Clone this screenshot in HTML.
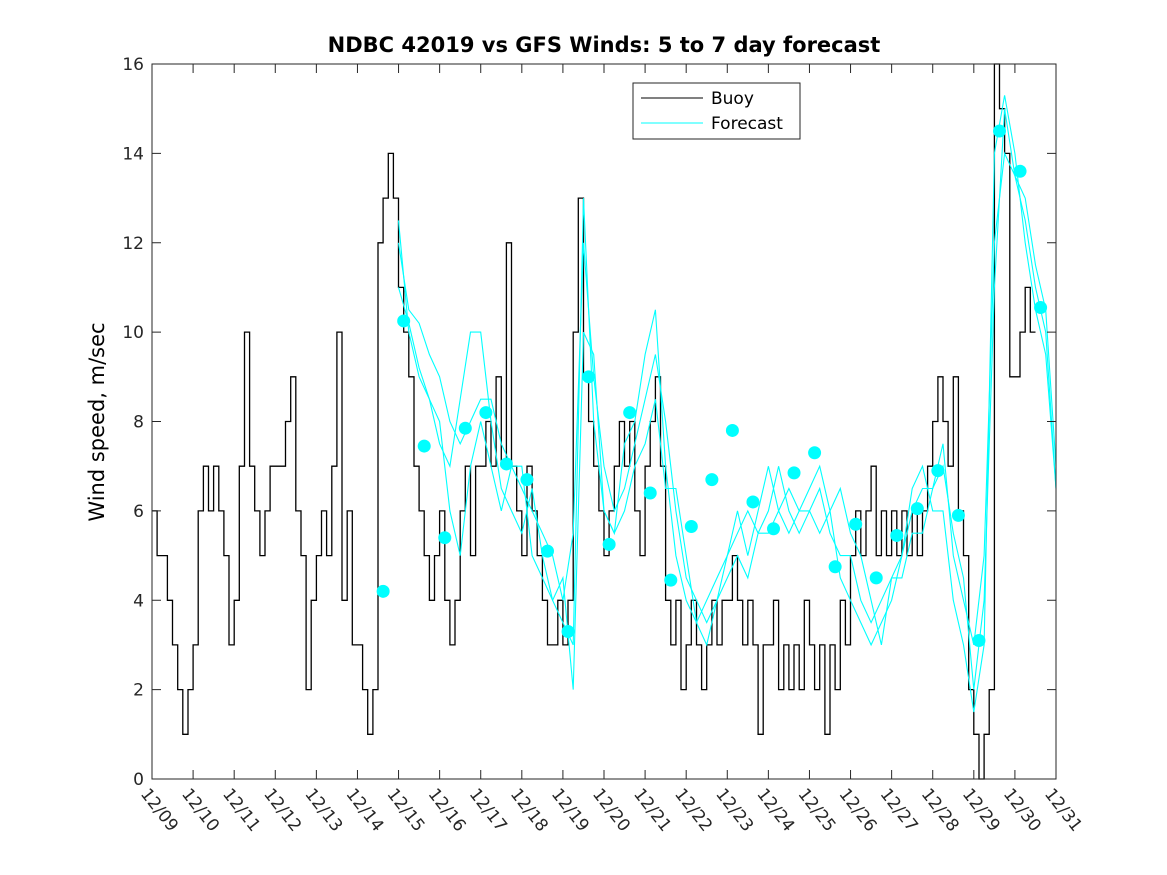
<!DOCTYPE html>
<html><head><meta charset="utf-8"><style>
body{margin:0;background:#fff;}
svg{display:block;font-family:"DejaVu Sans","Liberation Sans",sans-serif;}
</style></head><body>
<svg id="chart" width="1167" height="875" viewBox="0 0 1167 875">
<rect x="0" y="0" width="1167" height="875" fill="#fff"/>
<text x="604" y="52" text-anchor="middle" font-size="21" font-weight="bold">NDBC 42019 vs GFS Winds: 5 to 7 day forecast</text>
<text transform="translate(104,422) rotate(-90)" text-anchor="middle" font-size="21">Wind speed, m/sec</text>
<g id="plot"></g>
</svg>
<script>
const dayLabels=["12/09","12/10","12/11","12/12","12/13","12/14","12/15","12/16","12/17","12/18","12/19","12/20","12/21","12/22","12/23","12/24","12/25","12/26","12/27","12/28","12/29","12/30","12/31"];
const yTicks=[0,2,4,6,8,10,12,14,16];
const buoy=[6,5,5,4,3,2,1,2, 3,6,7,6,7,6,5,3, 4,7,10,7,6,5,6,7, 7,7,8,9,6,5,2,4, 5,6,5,7,10,4,6,3, 3,2,1,2,12,13,14,13, 11,10,9,7,6,5,4,5, 6,4,3,4,6,7,5,7, 7,8,7,9,7,12,7,6, 5,7,6,5,4,3,3,4, 3,4,10,13,9,8,7,6, 5,6,7,8,7,8,6,5, 7,8,9,7,4,3,4,2, 3,4,3,2,3,4,3,4, 4,5,4,3,4,3,1,3, 3,4,2,3,2,3,2,4, 3,2,3,1,3,2,4,3, 5,6,5,6,7,5,6,5, 6,5,6,5,6,5,6,7, 8,9,8,7,9,6,5,2, 1,0,1,2,16,15,14,9, 9,10,11,10];
const buoyStart=0, buoyStep=0.125;
const fcStart=6, fcStep=0.25;
const fcA=[12,10.5,10.2,9.5, 9,8,7.5,8, 8.5,8.5,7.5,7, 6.5,6,5.5,5, 4,5.5,12,9, 7,6,6.5,7.5, 8.5,9.5,8,6, 4.5,4,3.5,4, 5,5.5,6,5.5, 5.5,6,6.5,6, 6,6.5,5.5,5, 5,4,3.5,4, 4.5,5,6,6.5, 6.5,7,5.5,4.5, 2,4,11,15, 13.5,12.5,11,10, 6.5];
const fcB=[11,10.2,9.2,8.5, 7.5,7,8.5,10, 10,8,6.5,6, 5.5,6.5,5,4, 3.5,3,13,8, 6,5.5,7.5,8, 9.5,10.5,7,5, 4,3.5,4,4.5, 5,6,5,6, 7,6,5.5,6, 6.5,7,6,4.5, 4,3.5,3,3.5, 4,5,6.5,7, 6,6,4,3, 1.5,3,14,15.3, 14,12,10.5,9.5, 6.5];
const fcC=[12.5,10,9,8.5, 8,6,5,7, 8,7,6,7, 7,5,4.5,4, 4.5,2,10,9.5, 6,5.5,6,7, 7.5,8.5,6.5,6.5, 5,3.5,3,4, 4.5,5,4.5,5.5, 6,7,6,5.5, 6,5.5,6,6.5, 5.5,5,4,3, 4.5,4.5,5.5,5.5, 6.5,7.5,5,4, 3,5,12,14, 13.5,13,11.5,10.5, 7];
const dotStart=5.625, dotStep=0.5;
const dots=[4.2,10.25,7.45,5.4,7.85,8.2,7.05,6.7,5.1,3.3,9.0,5.25,8.2,6.4,4.45,5.65,6.7,7.8,6.2,5.6,6.85,7.3,4.75,5.7,4.5,5.45,6.05,6.9,5.9,3.1,14.5,13.6,10.55];

const X0=152,X1=1056,Y0=779,Y1=64;
const xs=d=>X0+d*(X1-X0)/22;
const ys=v=>Y0-v*(Y0-Y1)/16;
const NS="http://www.w3.org/2000/svg";
const g=document.getElementById('plot');
function mk(t,a){const e=document.createElementNS(NS,t);for(const k in a)e.setAttribute(k,a[k]);g.appendChild(e);return e;}

const frame=mk('rect',{x:X0,y:Y1,width:X1-X0,height:Y0-Y1,fill:'#fff',stroke:'#262626','stroke-width':1});



// buoy step line
let p='';
buoy.forEach((v,i)=>{const x1=xs(buoyStart+i*buoyStep),x2=xs(buoyStart+(i+1)*buoyStep);
 p+=(i?'L':'M')+x1.toFixed(1)+','+ys(v).toFixed(1)+'L'+x2.toFixed(1)+','+ys(v).toFixed(1);});
const bl=mk('path',{d:p,fill:'none',stroke:'#000','stroke-width':1.3});



[fcA,fcB,fcC].forEach((arr,k)=>{
 const d=arr.map((v,i)=>(i?'L':'M')+xs(fcStart+i*fcStep).toFixed(1)+','+ys(v).toFixed(1)).join('');
 const l=mk('path',{d:d,fill:'none',stroke:'#00ffff','stroke-width':1.1});
 
 
});
dots.forEach((v,i)=>{
 const c=mk('circle',{cx:xs(dotStart+i*dotStep),cy:ys(v),r:6.5,fill:'#00ffff'});
 
 
});

// frame on top + ticks
const fr=mk('rect',{x:X0,y:Y1,width:X1-X0,height:Y0-Y1,fill:'none',stroke:'#262626','stroke-width':1});


yTicks.forEach(v=>{
 const y=ys(v);
 mk('line',{x1:X0,x2:X0+9,y1:y,y2:y,stroke:'#262626'});
 mk('line',{x1:X1,x2:X1-9,y1:y,y2:y,stroke:'#262626'});
 const t=mk('text',{x:X0-8,y:y+6,'text-anchor':'end','font-size':17,fill:'#262626'});
 t.textContent=v;
 
 
});
dayLabels.forEach((s,i)=>{
 const x=xs(i);
 mk('line',{x1:x,x2:x,y1:Y0,y2:Y0-9,stroke:'#262626'});
 mk('line',{x1:x,x2:x,y1:Y1,y2:Y1+9,stroke:'#262626'});
 const t=mk('text',{transform:'translate('+(x-12)+','+(Y0+15)+') rotate(52)','font-size':17,fill:'#262626'});
 t.textContent=s;
 
 
});

// legend
const lg=mk('g',{});


const lr=document.createElementNS(NS,'rect');
[['x',633],['y',83],['width',167],['height',56],['fill','#fff'],['stroke','#262626']].forEach(a=>lr.setAttribute(a[0],a[1]));
lg.appendChild(lr);
[['Buoy','#000',98],['Forecast','#00ffff',123]].forEach(([n,c,y])=>{
 const ln=document.createElementNS(NS,'line');
 [['x1',641],['x2',703],['y1',y],['y2',y],['stroke',c]].forEach(a=>ln.setAttribute(a[0],a[1]));
 lg.appendChild(ln);
 const t=document.createElementNS(NS,'text');
 [['x',711],['y',y+6],['font-size',17]].forEach(a=>t.setAttribute(a[0],a[1]));
 t.textContent=n;
 
 
 lg.appendChild(t);
});
</script>
</body></html>
